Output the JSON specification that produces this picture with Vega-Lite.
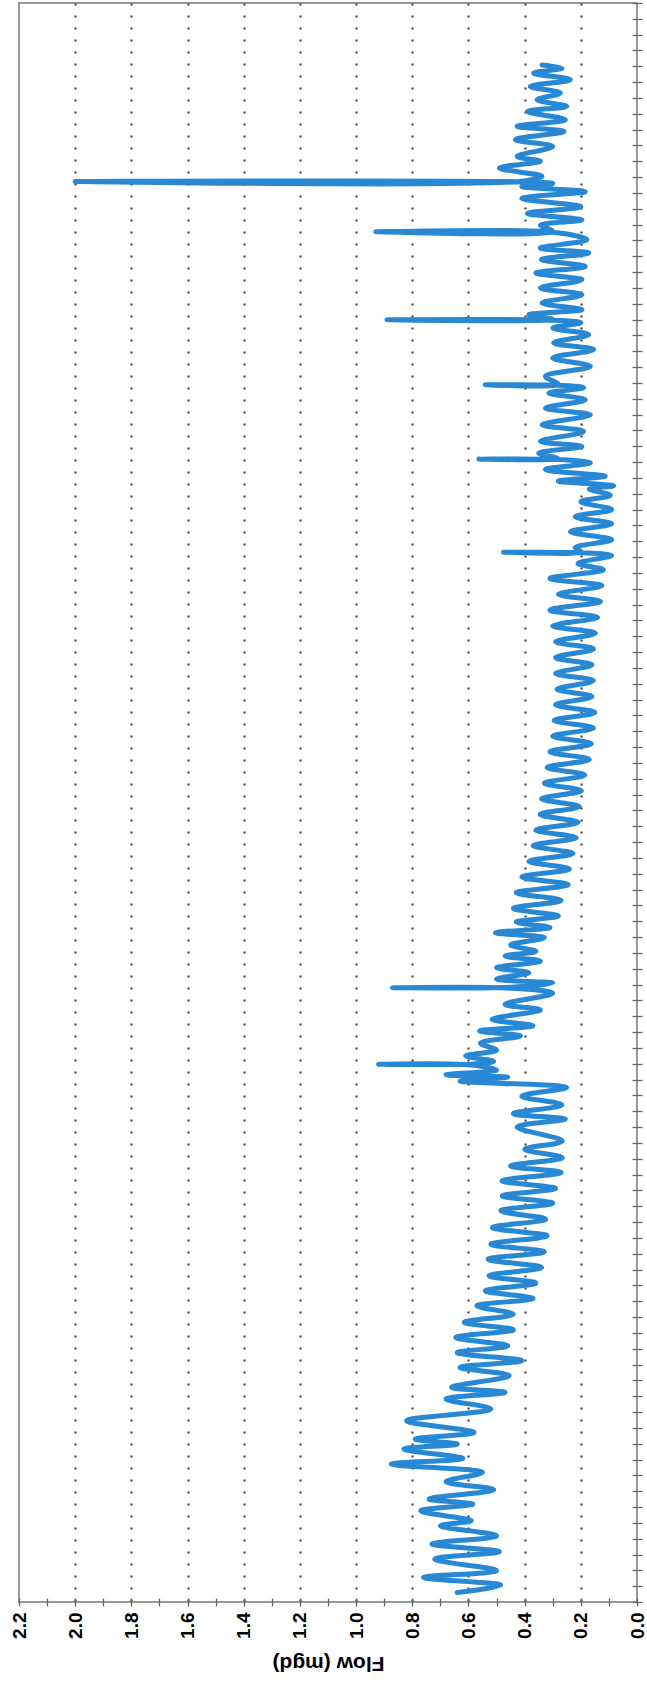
{
  "$schema": "https://vega.github.io/schema/vega-lite/v6.json",
  "autosize": {"type": "none"},
  "padding": {"left": 19, "top": 3, "right": 10, "bottom": 82},
  "width": 618,
  "height": 1599,
  "background": "white",
  "config": {
    "font": "Liberation Sans",
    "view": {"stroke": "#777777", "strokeWidth": 1.5}
  },
  "data": {"values": [
    {"t":0.6,"v":0.64},{"t":1.06,"v":0.485},{"t":1.55,"v":0.76},{"t":1.98,"v":0.50},{"t":2.71,"v":0.72},{"t":3.18,"v":0.49},{"t":3.66,"v":0.73},{"t":4.18,"v":0.50},{"t":4.82,"v":0.70},{"t":5.13,"v":0.59},{"t":5.76,"v":0.77},{"t":6.18,"v":0.585},{"t":6.5,"v":0.74},{"t":7.1,"v":0.51},{"t":7.6,"v":0.68},{"t":8.19,"v":0.55},{"t":8.71,"v":0.875},{"t":9.07,"v":0.62},{"t":9.66,"v":0.83},{"t":9.97,"v":0.64},{"t":10.29,"v":0.79},{"t":10.71,"v":0.58},{"t":11.45,"v":0.82},{"t":12.19,"v":0.52},{"t":12.82,"v":0.68},{"t":13.24,"v":0.47},{"t":13.56,"v":0.66},{"t":14.3,"v":0.455},{"t":14.82,"v":0.63},{"t":15.24,"v":0.41},{"t":15.75,"v":0.64},
    {"t":16.18,"v":0.46},{"t":16.71,"v":0.645},{"t":17.19,"v":0.44},{"t":17.66,"v":0.615},{"t":18.18,"v":0.44},{"t":18.71,"v":0.57},{"t":19.17,"v":0.37},{"t":19.65,"v":0.54},{"t":20.14,"v":0.36},{"t":20.6,"v":0.527},{"t":21.13,"v":0.34},{"t":21.65,"v":0.53},{"t":22.12,"v":0.33},{"t":22.6,"v":0.52},{"t":23.13,"v":0.32},{"t":23.65,"v":0.515},{"t":24.18,"v":0.325},{"t":24.71,"v":0.485},{"t":25.19,"v":0.30},{"t":25.65,"v":0.48},{"t":26.12,"v":0.29},{"t":26.6,"v":0.48},{"t":27.13,"v":0.27},{"t":27.54,"v":0.45},{"t":28.07,"v":0.266},{"t":28.6,"v":0.40},{"t":29.12,"v":0.266},
    {"t":30.0,"v":0.427},{"t":30.5,"v":0.255},{"t":30.85,"v":0.44},{"t":31.4,"v":0.267},{"t":31.95,"v":0.41},{"t":32.5,"v":0.25},{"t":32.9,"v":0.63},{"t":33.15,"v":0.46},{"t":33.3,"v":0.68},{"t":33.6,"v":0.50},{"t":33.93,"v":0.60},{"t":33.96,"v":0.92},{"t":33.99,"v":0.58},{"t":34.15,"v":0.51},{"t":34.5,"v":0.61},{"t":34.85,"v":0.50},{"t":35.3,"v":0.557},{"t":35.75,"v":0.415},{"t":36.07,"v":0.56},{"t":36.4,"v":0.37},{"t":36.8,"v":0.516},{"t":37.4,"v":0.344},{"t":37.75,"v":0.47},{"t":38.45,"v":0.30},{"t":38.77,"v":0.45},{"t":38.8,"v":0.87},{"t":38.83,"v":0.45},{"t":39.1,"v":0.30},{"t":39.35,"v":0.50},{"t":39.75,"v":0.385},{"t":40.06,"v":0.50},{"t":40.48,"v":0.344},{"t":40.8,"v":0.47},{"t":41.1,"v":0.36},{"t":41.5,"v":0.45},{"t":41.96,"v":0.33},{"t":42.27,"v":0.504},{"t":42.6,"v":0.31},{"t":42.95,"v":0.43},
    {"t":43.33,"v":0.28},{"t":43.81,"v":0.44},{"t":44.31,"v":0.27},{"t":44.8,"v":0.43},{"t":45.31,"v":0.245},{"t":45.79,"v":0.41},{"t":46.3,"v":0.24},{"t":46.78,"v":0.385},{"t":47.28,"v":0.228},{"t":47.77,"v":0.37},{"t":48.27,"v":0.216},{"t":48.75,"v":0.36},{"t":49.25,"v":0.21},{"t":49.74,"v":0.345},{"t":50.24,"v":0.205},{"t":50.73,"v":0.34},{"t":51.24,"v":0.198},{"t":51.72,"v":0.33},{"t":52.23,"v":0.186},{"t":52.71,"v":0.32},{"t":53.22,"v":0.17},{"t":53.7,"v":0.31},{"t":54.21,"v":0.162},{"t":54.69,"v":0.30},{"t":55.2,"v":0.155},{"t":55.68,"v":0.295},{"t":56.19,"v":0.15},{"t":56.67,"v":0.29},
    {"t":57.2,"v":0.16},{"t":57.65,"v":0.285},{"t":58.2,"v":0.155},{"t":58.65,"v":0.29},{"t":59.2,"v":0.16},{"t":59.65,"v":0.29},{"t":60.2,"v":0.155},{"t":60.65,"v":0.29},{"t":61.2,"v":0.148},{"t":61.65,"v":0.30},{"t":62.2,"v":0.14},{"t":62.65,"v":0.31},{"t":63.2,"v":0.13},{"t":63.65,"v":0.28},{"t":64.2,"v":0.125},{"t":64.65,"v":0.31},{"t":65.2,"v":0.12},{"t":65.6,"v":0.21},{"t":66.1,"v":0.09},{"t":66.28,"v":0.2},{"t":66.31,"v":0.475},{"t":66.34,"v":0.2},{"t":66.6,"v":0.22},{"t":67.1,"v":0.09},{"t":67.6,"v":0.237},{"t":68.1,"v":0.09},{"t":68.55,"v":0.22},{"t":69.0,"v":0.09},{"t":69.5,"v":0.20},{"t":69.9,"v":0.095},{"t":70.3,"v":0.17},{"t":70.5,"v":0.083},{"t":70.8,"v":0.28},
    {"t":71.11,"v":0.113},{"t":71.53,"v":0.326},{"t":71.95,"v":0.166},{"t":72.16,"v":0.28},{"t":72.19,"v":0.563},{"t":72.22,"v":0.28},{"t":72.57,"v":0.35},{"t":72.99,"v":0.196},{"t":73.31,"v":0.344},{"t":73.94,"v":0.19},{"t":74.36,"v":0.338},{"t":74.99,"v":0.166},{"t":75.41,"v":0.326},{"t":75.94,"v":0.184},{"t":76.36,"v":0.314},{"t":76.7,"v":0.19},{"t":76.86,"v":0.28},{"t":76.89,"v":0.54},{"t":76.92,"v":0.28},{"t":77.42,"v":0.326},{"t":78.05,"v":0.166},{"t":78.58,"v":0.30},{"t":79.11,"v":0.154},{"t":79.53,"v":0.297},{"t":80.05,"v":0.172},{"t":80.47,"v":0.30},{"t":80.8,"v":0.2},{"t":80.96,"v":0.30},{"t":80.99,"v":0.89},{"t":81.02,"v":0.30},{"t":81.31,"v":0.385},{"t":81.63,"v":0.196},{"t":82.05,"v":0.338},{"t":82.57,"v":0.196},{"t":83.0,"v":0.344},{"t":83.52,"v":0.196},{"t":83.94,"v":0.36},{"t":84.36,"v":0.184},{"t":84.8,"v":0.34},
    {"t":85.21,"v":0.172},{"t":85.52,"v":0.344},{"t":86.05,"v":0.178},{"t":86.52,"v":0.30},{"t":86.55,"v":0.93},{"t":86.58,"v":0.30},{"t":86.97,"v":0.344},{"t":87.29,"v":0.196},{"t":87.71,"v":0.39},{"t":88.13,"v":0.20},{"t":88.66,"v":0.41},{"t":89.08,"v":0.184},{"t":89.4,"v":0.41},{"t":89.6,"v":0.30},{"t":89.7,"v":0.40},{"t":89.73,"v":2.0},{"t":89.76,"v":0.40},{"t":90.05,"v":0.338},{"t":90.58,"v":0.49},{"t":91.0,"v":0.344},{"t":91.31,"v":0.427},{"t":91.94,"v":0.30},{"t":92.37,"v":0.433},{"t":92.89,"v":0.26},{"t":93.21,"v":0.427},{"t":93.63,"v":0.255},{"t":94.15,"v":0.39},{"t":94.47,"v":0.25},{"t":94.89,"v":0.356},{"t":95.31,"v":0.273},{"t":95.73,"v":0.38},{"t":96.15,"v":0.237},{"t":96.57,"v":0.368},{"t":96.88,"v":0.267},{"t":97.09,"v":0.338}
  ]},
  "mark": {"type": "line", "color": "#2888D4", "strokeWidth": 5, "strokeJoin": "round", "strokeCap": "round", "interpolate": "catmull-rom"},
  "encoding": {
    "order": {"field": "t", "type": "quantitative"},
    "x": {
      "field": "v", "type": "quantitative",
      "scale": {"domain": [0, 2.2], "reverse": true, "nice": false, "zero": false},
      "axis": {
        "orient": "bottom",
        "title": "Flow (mgd)",
        "titleAngle": 180,
        "titleBaseline": "bottom",
        "titleFontSize": 21,
        "titleFontWeight": "bold",
        "titleColor": "#000000",
        "titlePadding": 14,
        "values": [0, 0.1, 0.2, 0.3, 0.4, 0.5, 0.6, 0.7, 0.8, 0.9, 1.0, 1.1, 1.2, 1.3, 1.4, 1.5, 1.6, 1.7, 1.8, 1.9, 2.0, 2.1, 2.2],
        "labelExpr": "round(datum.value*10) % 2 == 0 ? format(datum.value, '.1f') : ''",
        "labelAngle": 270,
        "labelFontSize": 19,
        "labelFontWeight": "bold",
        "labelColor": "#000000",
        "labelPadding": 6,
        "labelFlush": false,
        "labelOverlap": false,
        "domain": false,
        "offset": -4,
        "tickSize": 8,
        "tickColor": "#666666",
        "tickWidth": 1.3,
        "grid": true,
        "gridDash": [2, 10],
        "gridColor": "#444444",
        "gridWidth": 2.2,
        "gridOpacity": {"condition": {"test": "round(datum.value*10) % 2 == 0 && datum.value > 0.05 && datum.value < 2.15", "value": 1}, "value": 0}
      }
    },
    "y": {
      "field": "t", "type": "quantitative",
      "scale": {"domain": [0, 101], "nice": false, "zero": false},
      "axis": {
        "orient": "right",
        "title": null,
        "labels": false,
        "domain": false,
        "grid": false,
        "offset": -5,
        "tickSize": 10,
        "tickColor": "#666666",
        "tickWidth": 1.3,
        "values": [0,1,2,3,4,5,6,7,8,9,10,11,12,13,14,15,16,17,18,19,20,21,22,23,24,25,26,27,28,29,30,31,32,33,34,35,36,37,38,39,40,41,42,43,44,45,46,47,48,49,50,51,52,53,54,55,56,57,58,59,60,61,62,63,64,65,66,67,68,69,70,71,72,73,74,75,76,77,78,79,80,81,82,83,84,85,86,87,88,89,90,91,92,93,94,95,96,97,98,99,100,101]
      }
    }
  }
}
